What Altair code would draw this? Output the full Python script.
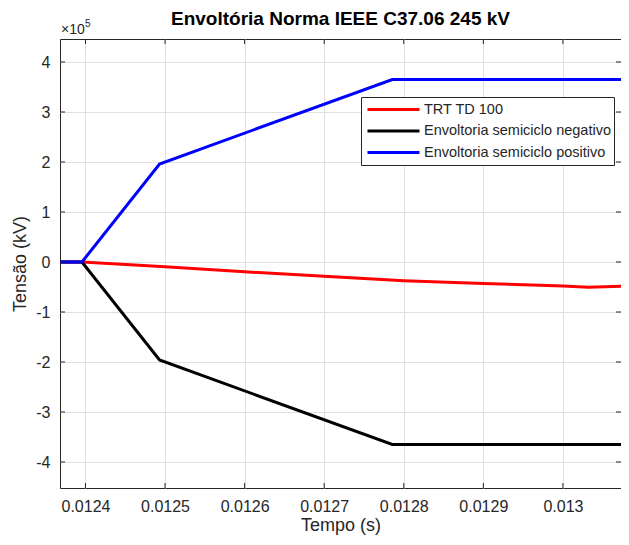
import altair as alt
import pandas as pd

# ---- data ----
series_names = ["TRT TD 100", "Envoltoria semiciclo negativo", "Envoltoria semiciclo positivo"]
series_colors = ["#FF0000", "#000000", "#0000FF"]

red_t = [0.012368, 0.0123956, 0.0125, 0.0126, 0.0127, 0.0128, 0.0129, 0.0130, 0.013032, 0.013085]
red_v = [0, 0, -9500, -19500, -28500, -37500, -43000, -48000, -50500, -48000]

env_t = [0.012368, 0.0123956, 0.0124931, 0.0127856, 0.013085]
pos_v = [0, 0, 196000, 365000, 365000]
neg_v = [0, 0, -196000, -365000, -365000]

x_ticks = [0.0124, 0.0125, 0.0126, 0.0127, 0.0128, 0.0129, 0.0130]
y_ticks = [-400000, -300000, -200000, -100000, 0, 100000, 200000, 300000, 400000]

x_domain = [0.012368, 0.013073]
y_domain = [-452000, 446000]

W, H = 561, 449
FONT = "Liberation Sans"
INK = "#262626"

rows = []
for t, v in zip(red_t, red_v):
    rows.append({"t": t, "v": v, "s": series_names[0]})
for t, v in zip(env_t, neg_v):
    rows.append({"t": t, "v": v, "s": series_names[1]})
for t, v in zip(env_t, pos_v):
    rows.append({"t": t, "v": v, "s": series_names[2]})
df = pd.DataFrame(rows)

xt = pd.DataFrame({"t": x_ticks})
yt = pd.DataFrame({"v": y_ticks})

x_axis = alt.Axis(values=x_ticks, format=".4~f", grid=True, domain=False, ticks=False,
                  labelPadding=10, titlePadding=2, title="Tempo (s)")
y_axis = alt.Axis(values=y_ticks, labelExpr="'' + datum.value/100000", grid=True, domain=False,
                  ticks=False, labelPadding=10, titlePadding=6, title="Tensão (kV)")

X = alt.X("t:Q", scale=alt.Scale(domain=x_domain, nice=False, zero=False), axis=x_axis)
Y = alt.Y("v:Q", scale=alt.Scale(domain=y_domain, nice=False, zero=False), axis=y_axis)

color = alt.Color(
    "s:N",
    scale=alt.Scale(domain=series_names, range=series_colors),
    legend=alt.Legend(
        title=None, orient="none", legendX=301, legendY=58,
        symbolType="stroke", symbolSize=2704, symbolStrokeWidth=3,
        clipHeight=19, rowPadding=2.5, padding=3, symbolOffset=2, labelOffset=3,
        fillColor="white", strokeColor=INK,
        labelFont=FONT, labelFontSize=14.5, labelColor=INK, labelLimit=0,
    ),
)

lines = [
    alt.Chart(df).transform_filter(alt.datum.s == name)
    .mark_line(strokeWidth=3, clip=True)
    .encode(x=X, y=Y, color=color)
    for name in series_names
]

tick_bottom = alt.Chart(xt).mark_rule(color=INK).encode(x=X, y=alt.value(H), y2=alt.value(H - 5))
tick_top = alt.Chart(xt).mark_rule(color=INK).encode(x=X, y=alt.value(0), y2=alt.value(5))
tick_left = alt.Chart(yt).mark_rule(color=INK).encode(y=Y, x=alt.value(0), x2=alt.value(5))
tick_right = alt.Chart(yt).mark_rule(color=INK).encode(y=Y, x=alt.value(W), x2=alt.value(W - 5))

exp_df = pd.DataFrame({"a": [0]})
exp_main = alt.Chart(exp_df).mark_text(font=FONT, fontSize=14, color=INK, align="left", baseline="alphabetic").encode(
    x=alt.value(1), y=alt.value(-5), text=alt.value("×10"))
exp_sup = alt.Chart(exp_df).mark_text(font=FONT, fontSize=10, color=INK, align="left", baseline="alphabetic").encode(
    x=alt.value(25), y=alt.value(-12), text=alt.value("5"))

chart = alt.layer(
    *lines, tick_bottom, tick_top, tick_left, tick_right, exp_main, exp_sup
).properties(
    width=W, height=H,
    title=alt.TitleParams("Envoltória Norma IEEE C37.06 245 kV", font=FONT, fontSize=19,
                          fontWeight="bold", color="#000000", anchor="middle", offset=-10),
    autosize=alt.AutoSizeParams(type="none"),
    padding={"left": 52, "top": 31, "right": 0, "bottom": 49},
).configure_view(
    stroke=INK, strokeWidth=1
).configure_axis(
    labelFont=FONT, labelFontSize=16, labelColor=INK,
    titleFont=FONT, titleFontSize=18, titleColor=INK, titleFontWeight="normal",
    gridColor="#DFDFDF", gridWidth=1,
)

chart.save("out.html", embed_options={"renderer": "svg", "actions": False})
